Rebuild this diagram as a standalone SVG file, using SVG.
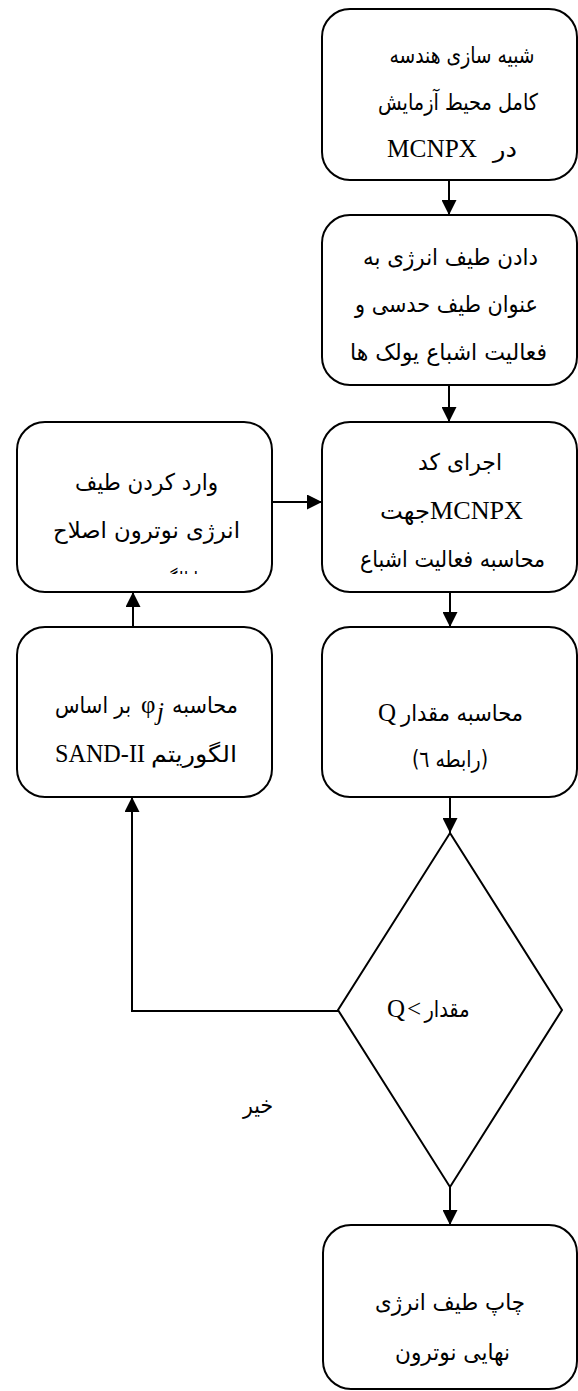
<svg xmlns="http://www.w3.org/2000/svg" width="578" height="1391" viewBox="0 0 578 1391">
<style>
.box{fill:#fff;stroke:#000;stroke-width:2}
.ln{fill:none;stroke:#000;stroke-width:2}
.ar{font-family:"DejaVu Sans","Noto Sans",sans-serif;font-size:23px;fill:#000;direction:rtl;text-anchor:middle}
.la{font-family:"Liberation Serif","Times New Roman",serif;font-size:25px;fill:#000}
</style>
<defs>
<marker id="ah" markerWidth="15" markerHeight="15" refX="15" refY="7.5" orient="auto" markerUnits="userSpaceOnUse">
<path d="M0,0 L15,7.5 L0,15 z" fill="#000"/>
</marker>
<clipPath id="clipL1"><rect x="17" y="422" width="255" height="152"/></clipPath>
</defs>

<g id="connectors">
<line class="ln" x1="449" y1="180" x2="449" y2="215" marker-end="url(#ah)"/>
<line class="ln" x1="449" y1="385" x2="449" y2="422" marker-end="url(#ah)"/>
<line class="ln" x1="450" y1="592" x2="450" y2="627" marker-end="url(#ah)"/>
<line class="ln" x1="450" y1="797" x2="450" y2="833" marker-end="url(#ah)"/>
<line class="ln" x1="450" y1="1187" x2="450" y2="1225" marker-end="url(#ah)"/>
<line class="ln" x1="272" y1="502" x2="322" y2="502" marker-end="url(#ah)"/>
<line class="ln" x1="133" y1="627" x2="133" y2="592" marker-end="url(#ah)"/>
<polyline class="ln" points="338,1011 132,1011 132,797" marker-end="url(#ah)"/>
</g>

<g id="n1">
<rect class="box" x="322" y="9" width="255" height="171" rx="28"/>
<text class="ar" x="462" y="63" textLength="145" lengthAdjust="spacingAndGlyphs">شبیه سازی هندسه</text>
<text class="ar" x="458" y="110" textLength="160" lengthAdjust="spacingAndGlyphs">کامل محیط آزمایش</text>
<text class="ar" x="505" y="157" textLength="24" lengthAdjust="spacingAndGlyphs">در</text>
<text class="la" x="387" y="157" textLength="90" lengthAdjust="spacingAndGlyphs">MCNPX</text>
</g>

<g id="n2">
<rect class="box" x="322" y="215" width="255" height="170" rx="28"/>
<text class="ar" x="450.5" y="265" textLength="175" lengthAdjust="spacingAndGlyphs">دادن طیف انرژی به</text>
<text class="ar" x="446.5" y="312" textLength="183" lengthAdjust="spacingAndGlyphs">عنوان طیف حدسی و</text>
<text class="ar" x="448.5" y="360" textLength="197" lengthAdjust="spacingAndGlyphs">فعالیت اشباع یولک ها</text>
</g>

<g id="n3">
<rect class="box" x="322" y="422" width="255" height="170" rx="28"/>
<text class="ar" x="460" y="470" textLength="84" lengthAdjust="spacingAndGlyphs">اجرای کد</text>
<text class="la" x="430" y="519" textLength="93" lengthAdjust="spacingAndGlyphs">MCNPX</text>
<text class="ar" x="405" y="519" textLength="50" lengthAdjust="spacingAndGlyphs">جهت</text>
<text class="ar" x="452.5" y="567" textLength="185" lengthAdjust="spacingAndGlyphs">محاسبه فعالیت اشباع</text>
</g>

<g id="n4">
<rect class="box" x="17" y="422" width="255" height="170" rx="28"/>
<text class="ar" x="146.5" y="490" textLength="143" lengthAdjust="spacingAndGlyphs">وارد کردن طیف</text>
<text class="ar" x="146.5" y="538" textLength="187" lengthAdjust="spacingAndGlyphs">انرژی نوترون اصلاح</text>
<g clip-path="url(#clipL1)">
<text class="ar" x="186" y="588" textLength="108" lengthAdjust="spacingAndGlyphs">شده با الگوریتم</text>
</g>
</g>

<g id="n5">
<rect class="box" x="17" y="627" width="255" height="170" rx="28"/>
<text class="ar" x="205" y="713" textLength="66" lengthAdjust="spacingAndGlyphs">محاسبه</text>
<text class="la" x="141" y="713">φ</text>
<text class="la" x="157" y="720" font-size="20" font-style="italic">j</text>
<text class="ar" x="93" y="713" textLength="76" lengthAdjust="spacingAndGlyphs">بر اساس</text>
<text class="la" x="55" y="762" textLength="90" lengthAdjust="spacingAndGlyphs">SAND-II</text>
<text class="ar" x="194" y="762" textLength="86" lengthAdjust="spacingAndGlyphs">الگوریتم</text>
</g>

<g id="n6">
<rect class="box" x="322" y="627" width="255" height="170" rx="28"/>
<text class="la" x="378" y="721">Q</text>
<text class="ar" x="462" y="721" textLength="122" lengthAdjust="spacingAndGlyphs">محاسبه مقدار</text>
<text class="ar" x="450" y="767" textLength="76" lengthAdjust="spacingAndGlyphs">(رابطه ٦)</text>
</g>

<g id="n7">
<polygon class="box" points="450,833 562,1010 450,1187 338,1010"/>
<text class="la" x="387" y="1017" font-size="16">Q</text>
<text class="la" x="407" y="1017" font-size="16">&lt;</text>
<text class="ar" x="447" y="1017" font-size="16" textLength="45" lengthAdjust="spacingAndGlyphs">مقدار</text>
</g>

<g id="label-no">
<text class="ar" x="258" y="1113" font-size="19" textLength="30" lengthAdjust="spacingAndGlyphs">خیر</text>
</g>

<g id="n8">
<rect class="box" x="323" y="1225" width="254" height="164" rx="28"/>
<text class="ar" x="450" y="1310" textLength="150" lengthAdjust="spacingAndGlyphs">چاپ طیف انرژی</text>
<text class="ar" x="452.5" y="1360" textLength="115" lengthAdjust="spacingAndGlyphs">نهایی نوترون</text>
</g>
</svg>
